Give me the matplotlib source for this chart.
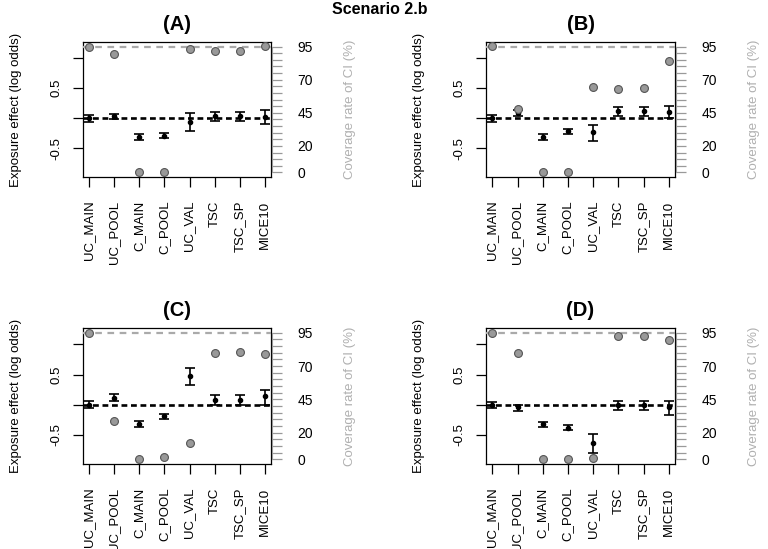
import numpy as np
import matplotlib
matplotlib.use("Agg")
import matplotlib.pyplot as plt

plt.rcParams['font.family'] = ['Liberation Sans', 'DejaVu Sans']

methods = ['UC_MAIN', 'UC_POOL', 'C_MAIN', 'C_POOL', 'UC_VAL', 'TSC', 'TSC_SP', 'MICE10']
panels = ['(A)', '(B)', '(C)', '(D)']

# point estimates and 95% CI bounds (log odds)
est_A = [0.00, 0.03, -0.32, -0.29, -0.06, 0.03, 0.03, 0.02]
lo_A = [-0.055, -0.02, -0.37, -0.33, -0.21, -0.05, -0.05, -0.09]
hi_A = [0.055, 0.07, -0.26, -0.25, 0.08, 0.10, 0.10, 0.13]

est_B = [0.00, 0.08, -0.32, -0.22, -0.23, 0.12, 0.12, 0.10]
lo_B = [-0.055, 0.04, -0.37, -0.27, -0.38, 0.04, 0.04, 0.00]
hi_B = [0.055, 0.13, -0.26, -0.18, -0.11, 0.19, 0.19, 0.21]

est_C = [0.00, 0.12, -0.32, -0.18, 0.47, 0.08, 0.08, 0.14]
lo_C = [-0.055, 0.07, -0.37, -0.23, 0.32, 0.00, 0.00, 0.00]
hi_C = [0.055, 0.17, -0.27, -0.145, 0.61, 0.16, 0.16, 0.24]

est_D = [0.00, -0.04, -0.32, -0.38, -0.63, -0.01, -0.01, -0.03]
lo_D = [-0.055, -0.10, -0.37, -0.42, -0.79, -0.09, -0.09, -0.17]
hi_D = [0.05, 0.00, -0.28, -0.33, -0.48, 0.07, 0.07, 0.07]

# coverage rate of the CI (%)
cov_A = [94.8, 89.8, 0.0, 0.0, 93.0, 92.0, 92.0, 95.2]
cov_B = [95.5, 47.8, 0.0, 0.0, 64.5, 63.3, 64.0, 84.3]
cov_C = [94.8, 28.8, 0.0, 1.7, 12.4, 80.1, 80.6, 78.7]
cov_D = [94.8, 79.4, 0.0, 0.0, 1.2, 92.6, 92.3, 89.3]

ests = [est_A, est_B, est_C, est_D]
los = [lo_A, lo_B, lo_C, lo_D]
his = [hi_A, hi_B, hi_C, hi_D]
covs = [cov_A, cov_B, cov_C, cov_D]

fig = plt.figure(figsize=(7.68, 5.49), dpi=100)
fig.text(0.495, 1 - 10 / 549, 'Scenario 2.b', ha='center', va='center',
         fontsize=11.5, fontweight='bold')

# axes boxes in pixel coords (left, right, top, bottom)
boxes = [(83, 271, 42, 177), (486, 675, 42, 177),
         (83, 271, 328, 464), (486, 675, 328, 464)]

gray_txt = '#b0b0b0'
x = np.arange(1, 9)

for i in range(4):
    l, r, t, b = boxes[i]
    ax = fig.add_axes([l / 768, 1 - b / 549, (r - l) / 768, (b - t) / 549])
    est = np.array(ests[i])
    lo = np.array(los[i])
    hi = np.array(his[i])

    ax.axhline(0, color='black', ls=(0, (2.2, 1.4)), lw=1.9, zorder=1)
    ax.errorbar(x, est, yerr=[est - lo, hi - est], fmt='o', ms=3,
                color='black', ecolor='black', elinewidth=1.2,
                capsize=3.3, capthick=1.2, zorder=3)
    ax.set_xlim(0.75, 8.25)
    ax.set_ylim(-0.98, 1.27)
    ax.set_xticks(x)
    ax.set_xticklabels(methods, rotation=90, fontsize=9.5)
    ax.set_yticks([-0.5, 0, 0.5, 1.0])
    ax.set_yticklabels(['-0.5', '', '0.5', ''], rotation=90, va='center',
                       fontsize=9.5)
    ax.tick_params(length=7, width=0.9, pad=8)
    ax.tick_params(axis='x', pad=10)
    ax.set_ylabel('Exposure effect (log odds)', fontsize=9.5, labelpad=20)
    ax.set_title(panels[i], fontsize=14.5, fontweight='bold', pad=9)
    for s in ax.spines.values():
        s.set_linewidth(0.9)

    ax2 = ax.twinx()
    ax2.set_ylim(-3.5, 98.5)
    ax2.axhline(95, color='#aaaaaa', ls=(0, (3, 2.5)), lw=1.6, zorder=1)
    ax2.scatter(x, covs[i], s=32, facecolor='#999999', edgecolor='#555555',
                linewidth=0.8, zorder=3)
    ticks = list(range(0, 100, 5))
    ax2.set_yticks(ticks)
    ax2.set_yticklabels([str(v) if v in (0, 20, 45, 70, 95) else ''
                         for v in ticks], rotation=90, va='center',
                        fontsize=9.5, color=gray_txt)
    ax2.tick_params(axis='y', length=7, width=0.9, color='#999999', pad=11)
    ax2.spines['right'].set_bounds(0, 95)
    ax2.spines['right'].set_color('#999999')
    ax2.spines['right'].set_position(('outward', 1))
    ax2.spines['top'].set_visible(False)
    ax2.spines['left'].set_visible(False)
    ax2.spines['bottom'].set_visible(False)
    ax2.set_ylabel('Coverage rate of CI (%)', fontsize=9.5, color=gray_txt,
                   labelpad=22)

fig.savefig('out.png', dpi=100)
